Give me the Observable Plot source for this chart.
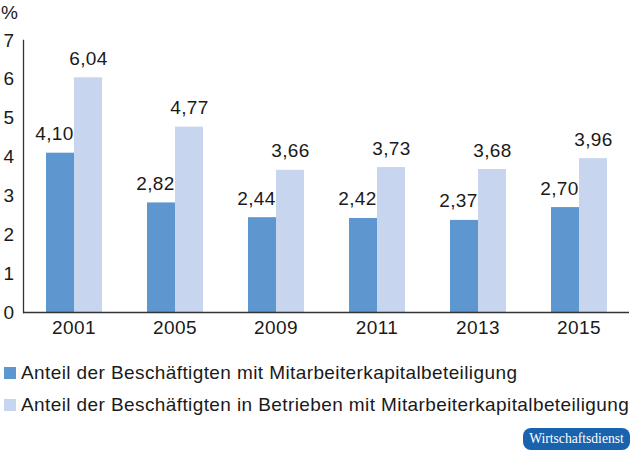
<!DOCTYPE html>
<html>
<head>
<meta charset="utf-8">
<script src="https://cdn.jsdelivr.net/npm/d3@7"></script>
<script src="https://cdn.jsdelivr.net/npm/@observablehq/plot@0.6"></script>
<style>
  body { margin: 0; background: #fff; }
  #wrap { position: relative; width: 630px; font-family: "Liberation Sans", Arial, sans-serif; color: #1a1a1a; letter-spacing: 0.4px; }
  #unit { position: absolute; left: 1px; top: 2px; font-size: 19px; }
  .legend { margin-top: 12px; font-size: 19px; }
  .legend div { height: 32px; line-height: 32px; display: flex; align-items: center; }
  .sw { width: 12px; height: 12px; margin-left: 4px; margin-right: 5px; flex: none; }
  .logo { margin: 7px 0 0 auto; width: 107px; height: 22px; border-radius: 8px; background: #1862ae; color: #fff;
          font-family: "Liberation Serif", "Times New Roman", serif; font-size: 13.6px; letter-spacing: 0; line-height: 22px; text-align: center; }
</style>
</head>
<body>
<div id="wrap">
  <div id="unit">%</div>
  <div id="chart"></div>
  <div class="legend" id="legend"></div>
  <div class="logo">Wirtschaftsdienst</div>
</div>
<script>
const years = ["2001", "2005", "2009", "2011", "2013", "2015"];
const seriesNames = [
  "Anteil der Beschäftigten mit Mitarbeiterkapitalbeteiligung",
  "Anteil der Beschäftigten in Betrieben mit Mitarbeiterkapitalbeteiligung"
];
const employees = [4.10, 2.82, 2.44, 2.42, 2.37, 2.70];
const firms = [6.04, 4.77, 3.66, 3.73, 3.68, 3.96];
const yTicks = [0, 1, 2, 3, 4, 5, 6, 7];
const colors = ["#5e96cf", "#c7d5ef"];

const data = years.flatMap((y, i) => [
  {year: y, series: seriesNames[0], value: employees[i]},
  {year: y, series: seriesNames[1], value: firms[i]}
]);
const fmt = v => v.toFixed(2).replace(".", ",");

const chart = Plot.plot({
  width: 630,
  height: 345,
  marginLeft: 21,
  marginRight: 0,
  marginTop: 40,
  marginBottom: 33,
  style: {fontFamily: "Liberation Sans, Arial, sans-serif", fontSize: "19px", color: "#1a1a1a", background: "transparent", letterSpacing: "0.4px"},
  fx: {domain: years, padding: 0, label: null, tickSize: 0, tickPadding: 8, axis: "bottom"},
  x: {domain: seriesNames, axis: null, paddingInner: 0, paddingOuter: 0.75},
  y: {domain: [0, 7], ticks: yTicks, tickSize: 0, tickPadding: 9, label: null, tickFormat: d => String(d)},
  color: {domain: seriesNames, range: colors},
  marks: [
    Plot.barY(data, {fx: "year", x: "series", y: "value", fill: "series"}),
    Plot.text(data.filter(d => d.series === seriesNames[0]), {fx: "year", x: "series", y: "value", text: d => fmt(d.value), lineAnchor: "bottom", dy: -13, dx: -6, fill: "#1a1a1a"}),
    Plot.text(data.filter(d => d.series === seriesNames[1]), {fx: "year", x: "series", y: "value", text: d => fmt(d.value), lineAnchor: "bottom", dy: -13, fill: "#1a1a1a"}),
    Plot.ruleY([0], {stroke: "#333", strokeWidth: 1.3}),
    Plot.frame({anchor: "left", facetAnchor: "left", stroke: "#333", strokeWidth: 1.3})
  ]
});
document.getElementById("chart").appendChild(chart);

const legend = document.getElementById("legend");
seriesNames.forEach((name, i) => {
  const row = document.createElement("div");
  const sw = document.createElement("span");
  sw.className = "sw";
  sw.style.background = colors[i];
  row.appendChild(sw);
  row.appendChild(document.createTextNode(name));
  legend.appendChild(row);
});
</script>
</body>
</html>
